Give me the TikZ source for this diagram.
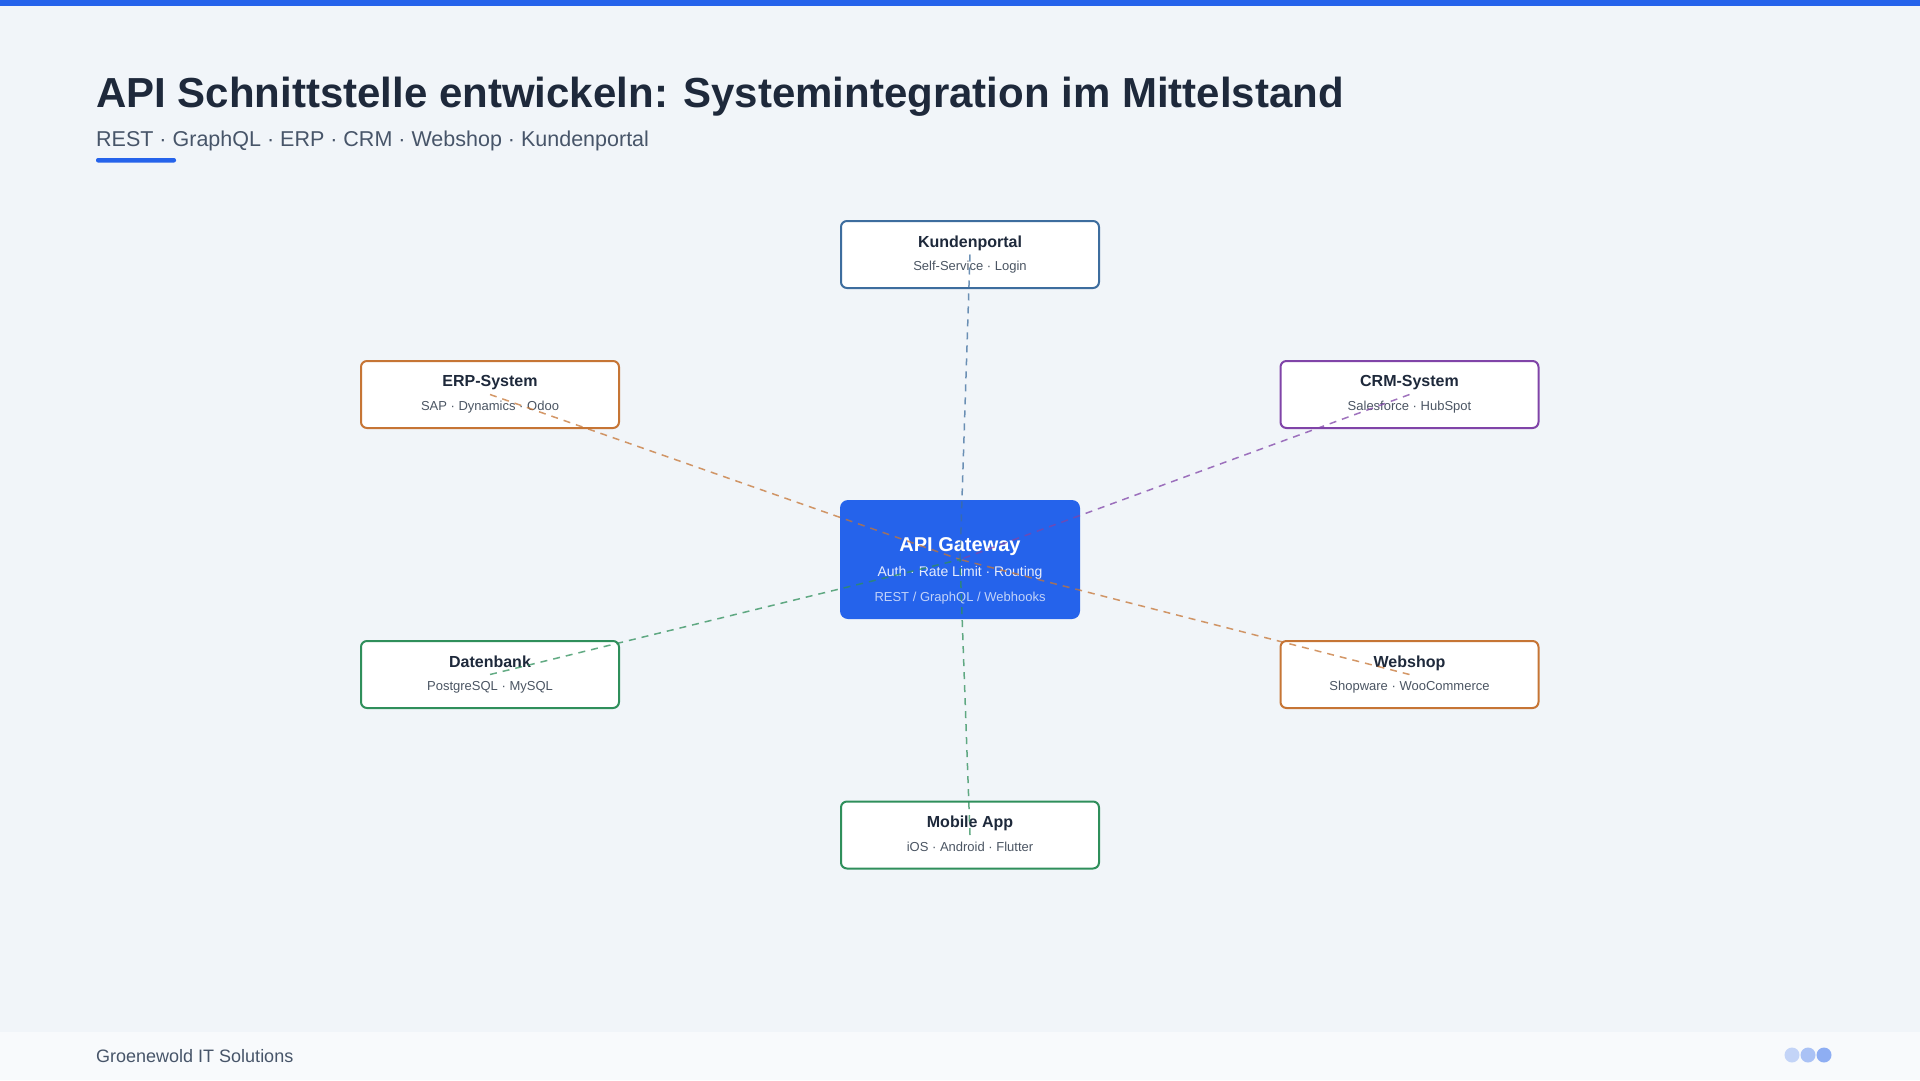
\documentclass[tikz,border=0pt]{standalone}
\usepackage{fontspec}
\setmainfont{Liberation Sans}
\usetikzlibrary{positioning}

\definecolor{bgc}{HTML}{F1F5F9}
\definecolor{footc}{HTML}{F8FAFC}
\definecolor{accent}{HTML}{2563EB}
\definecolor{ink}{HTML}{1E293B}
\definecolor{muted}{HTML}{475569}
\definecolor{subc}{HTML}{4B5563}
\definecolor{kundc}{HTML}{3D6D9E}
\definecolor{erpc}{HTML}{C67535}
\definecolor{crmc}{HTML}{8044A8}
\definecolor{dbc}{HTML}{2F8F5B}

\newcommand\boxtitle[1]{{\fontsize{16}{23.5}\selectfont\bfseries #1}}
\newcommand\boxsub[1]{{\color{subc}#1\vphantom{gy}}}

\begin{document}
\begin{tikzpicture}[x=1pt,y=-1pt,
  sysbox/.style={draw=#1,line width=2pt,fill=white,rounded corners=6pt,
    minimum width=258pt,minimum height=67pt,align=center,text=ink,
    font=\fontsize{13}{23.5}\selectfont},
  link/.style={draw=#1,draw opacity=0.75,line width=1.5pt,dash pattern=on 7pt off 6pt}]
  % Hintergrund
  \fill[bgc] (0,0) rectangle (1920,1080);
  \useasboundingbox (0,0) rectangle (1920,1080);
  \fill[accent] (0,0) rectangle (1920,6);
  \fill[footc] (0,1032) rectangle (1920,1080);
  % Kopf
  \node[anchor=base west,inner sep=0,text=ink,font=\fontsize{42}{50}\selectfont\bfseries] (title) at (96,107)
    {API Schnittstelle entwickeln: Systemintegration im Mittelstand};
  \node[anchor=base west,inner sep=0,text=muted,font=\fontsize{21.5}{26}\selectfont] (subtitle) at (96,146)
    {REST · GraphQL · ERP · CRM · Webshop · Kundenportal};
  \fill[accent,rounded corners=2pt] (96,158) rectangle (176,162.5);
  % Systeme
  \node[sysbox=kundc] (kunden) at (970,254.5) {\boxtitle{Kundenportal}\\\boxsub{Self-Service · Login}};
  \node[sysbox=erpc] (erp) at (490,394.5) {\boxtitle{ERP-System}\\\boxsub{SAP · Dynamics · Odoo}};
  \node[sysbox=crmc] (crm) at (1409.5,394.5) {\boxtitle{CRM-System}\\\boxsub{Salesforce · HubSpot}};
  \node[sysbox=dbc] (db) at (490,674.5) {\boxtitle{Datenbank}\\\boxsub{PostgreSQL · MySQL}};
  \node[sysbox=erpc] (shop) at (1409.5,674.5) {\boxtitle{Webshop}\\\boxsub{Shopware · WooCommerce}};
  \node[sysbox=dbc] (app) at (970,835) {\boxtitle{Mobile App}\\\boxsub{iOS · Android · Flutter}};
  % Gateway
  \node[fill=accent,rounded corners=8pt,minimum width=240pt,minimum height=119pt] (gw) at (960,559.5) {};
  \node[yshift=-11.5pt,align=center,text=white,font=\fontsize{14}{25}\selectfont] (gwtext) at (gw.center)
    {{\fontsize{20}{25}\selectfont\bfseries API Gateway}\\
     {\color{white!88!accent}Auth · Rate Limit · Routing}\\
     {\fontsize{13}{25}\selectfont\color{white!72!accent}REST / GraphQL / Webhooks}};
  % Verbindungen
  \draw[link=kundc] (kunden.center) -- (gw.center);
  \draw[link=erpc] (erp.center) -- (gw.center);
  \draw[link=crmc] (crm.center) -- (gw.center);
  \draw[link=dbc] (db.center) -- (gw.center);
  \draw[link=erpc] (shop.center) -- (gw.center);
  \draw[link=dbc] (app.center) -- (gw.center);
  % Fuss
  \node[anchor=base west,inner sep=0,text=muted,font=\fontsize{18}{22}\selectfont] (footer) at (96,1062)
    {Groenewold IT Solutions};
  \fill[accent,fill opacity=0.25] (1792,1055) circle (7.5);
  \fill[accent,fill opacity=0.37] (1808,1055) circle (7.5);
  \fill[accent,fill opacity=0.5] (1824,1055) circle (7.5);
\end{tikzpicture}
\end{document}
